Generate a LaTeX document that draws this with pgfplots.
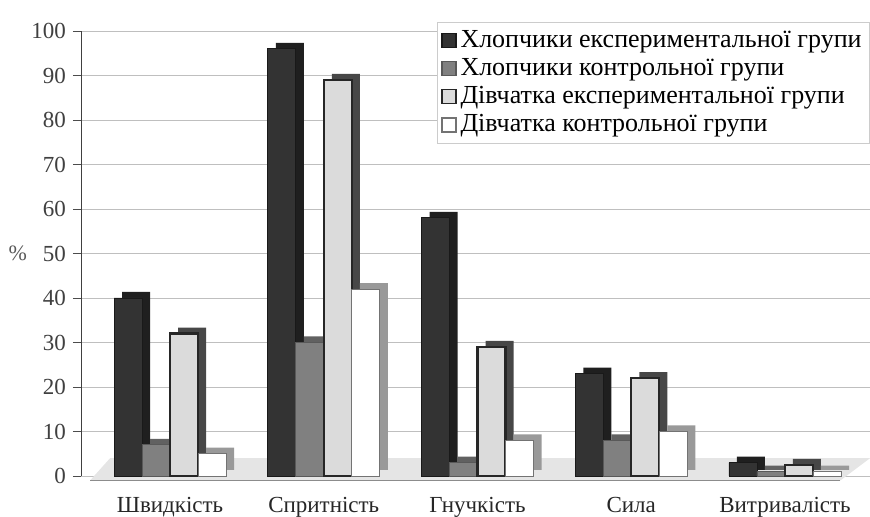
\documentclass[border=0pt]{standalone}
\usepackage{pgfplots}
\pgfplotsset{compat=1.18}
\usepackage{fontspec}
\setmainfont{Liberation Serif}
\begin{document}
\begin{tikzpicture}
\useasboundingbox (-40.5pt,-20.5pt) rectangle (394.5pt,238pt);
\begin{axis}[
  at={(0,0)}, anchor=south west,
  scale only axis, width=394.5pt, height=222.5pt,
  xmin=-0.579, xmax=4.553, ymin=0, ymax=100,
  clip=false,
  ybar=0pt, bar width=14pt,
  axis y line*=left, axis x line*=bottom,
  x axis line style={draw=none},
  y axis line style={draw=black!75},
  xtick={0,1,2,3,4},
  xticklabels={Швидкість,Спритність,Гнучкість,Сила,Витривалість},
  xtick style={draw=none},
  xticklabel style={font=\fontsize{11.5}{13}\selectfont, text=black!85, yshift=-3pt},
  ytick={0,10,...,100},
  tick align=outside, major tick length=4pt,
  ytick style={draw=black!70},
  yticklabel style={font=\fontsize{11.5}{13}\selectfont, text=black!75},
  /pgf/number format/assume math mode=true,
  ymajorgrids, grid style={draw=black!25, line width=0.4pt},
  ylabel={\%},
  ylabel style={at={(axis description cs:-0.08,0.5)}, rotate=-90, anchor=center, font=\fontsize{11}{13}\selectfont, text=black!65},
  legend style={at={(axis description cs:1,1.02)}, anchor=north east,
    draw=black!20, fill=white, inner xsep=2pt, inner ysep=2pt,
    font=\fontsize{13}{15}\selectfont, row sep=0pt},
  legend cell align=left,
  legend image code/.code={\draw[#1, line width=0.8pt] (0pt,-3.5pt) rectangle (7pt,3.5pt);},
]
% floor
\fill[black!10] (axis cs:-0.52,-1) -- (axis cs:4.36,-1) -- (axis cs:4.553,4) -- (axis cs:-0.39,4) -- cycle;
\draw[black!45, line width=0.6pt] (axis cs:-0.52,-1) -- (axis cs:4.36,-1);

% Boys experimental
\addplot[forget plot, fill=black!88, draw=none, bar shift=-17pt, yshift=3pt] coordinates {(0,40) (1,96) (2,58) (3,23) (4,3)};
\addplot[fill=black!80, draw=black!90, bar shift=-21pt] coordinates {(0,40) (1,96) (2,58) (3,23) (4,3)};
\addlegendentry{Хлопчики експериментальної групи}
% Boys control
\addplot[forget plot, fill=black!62, draw=none, bar shift=-3pt, yshift=3pt] coordinates {(0,7) (1,30) (2,3) (3,8) (4,1)};
\addplot[fill=black!50, draw=black!65, bar shift=-7pt] coordinates {(0,7) (1,30) (2,3) (3,8) (4,1)};
\addlegendentry{Хлопчики контрольної групи}
% Girls experimental
\addplot[forget plot, fill=black!72, draw=none, bar shift=11pt, yshift=3pt] coordinates {(0,32) (1,89) (2,29) (3,22) (4,2.5)};
\addplot[fill=black!14, draw=black!85, line width=1.2pt, bar shift=7pt] coordinates {(0,32) (1,89) (2,29) (3,22) (4,2.5)};
\addlegendentry{Дівчатка експериментальної групи}
% Girls control
\addplot[forget plot, fill=black!40, draw=none, bar shift=25pt, yshift=3pt] coordinates {(0,5) (1,42) (2,8) (3,10) (4,1)};
\addplot[fill=white, draw=black!55, bar shift=21pt] coordinates {(0,5) (1,42) (2,8) (3,10) (4,1)};
\addlegendentry{Дівчатка контрольної групи}
\end{axis}
\end{tikzpicture}
\end{document}
